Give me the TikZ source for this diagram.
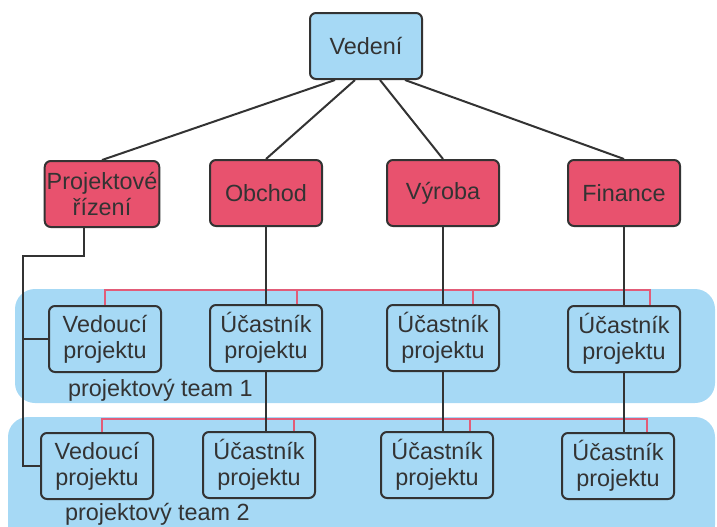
\documentclass[tikz,border=0pt]{standalone}
\usepackage{fontspec}
\setmainfont{Liberation Sans}
\usetikzlibrary{calc}
\definecolor{svetlemodra}{RGB}{166,217,245}
\definecolor{cervena}{RGB}{232,82,110}
\definecolor{ruzova}{RGB}{226,92,120}
\definecolor{tmava}{RGB}{51,51,51}

\begin{document}
\begin{tikzpicture}[x=0.5pt,y=-0.5pt,
    box/.style={draw=tmava,line width=1pt,rounded corners=3pt,
        minimum width=56pt,minimum height=33pt,inner sep=1pt,
        align=center,text=tmava,font=\fontsize{11.7}{13}\selectfont},
    modry/.style={box,fill=svetlemodra},
    cerveny/.style={box,fill=cervena},
    spoj/.style={tmava,line width=1pt},
    cara/.style={ruzova,line width=1pt},
    tym/.style={fill=svetlemodra,rounded corners=10pt},
    popis/.style={anchor=west,text=tmava,font=\fontsize{11.7}{13}\selectfont}]
        \useasboundingbox (0,0) rectangle (717,526);
        % pozadi tymu
        \fill[tym] (15,289) rectangle (715,403);
        \fill[tym] (8,417) rectangle (715,545);
        \node[popis] (tym1) at (61,390) {projektový team 1};
        \node[popis] (tym2) at (58,514) {projektový team 2};

        % vedeni a utvary
        \node[modry] (ved) at (366,46) {Vedení};
        \node[cerveny] (proj) at (102,194) {Projektové\\řízení};
        \node[cerveny] (obch) at (266,193) {Obchod};
        \node[cerveny] (vyr) at (443,193) {Výroba};
        \node[cerveny] (fin) at (624,193) {Finance};
        \draw[spoj] ($(ved.south)+(-31,0)$) -- (proj.north);
        \draw[spoj] ($(ved.south)+(-11,0)$) -- (obch.north);
        \draw[spoj] ($(ved.south)+(14,0)$) -- (vyr.north);
        \draw[spoj] ($(ved.south)+(39,0)$) -- (fin.north);

        % projektovy team 1
        \node[modry] (ved1) at (105,339) {Vedoucí\\projektu};
        \node[modry] (u1a) at (266,338) {Účastník\\projektu};
        \node[modry] (u1b) at (443,338) {Účastník\\projektu};
        \node[modry] (u1c) at (624,339) {Účastník\\projektu};
        % projektovy team 2
        \node[modry] (ved2) at (97,466) {Vedoucí\\projektu};
        \node[modry] (u2a) at (259,465) {Účastník\\projektu};
        \node[modry] (u2b) at (437,465) {Účastník\\projektu};
        \node[modry] (u2c) at (618,466) {Účastník\\projektu};

        % cervene linky v tymech
        \draw[cara] (ved1.north) |- ($(u1c.north)+(26,-15)$) -- ($(u1c.north)+(26,0)$);
        \draw[cara] ($(u1a.north)+(31,0)$) -- ++(0,-15);
        \draw[cara] ($(u1b.north)+(30,0)$) -- ++(0,-15);
        \draw[cara] ($(ved2.north)+(5,0)$) |- ($(u2c.north)+(29,-13)$) -- ($(u2c.north)+(29,0)$);
        \draw[cara] ($(u2a.north)+(35,0)$) -- ++(0,-13);
        \draw[cara] ($(u2b.north)+(33,0)$) -- ++(0,-13);

        % svisle spoje
        \draw[spoj] (obch.south) -- (u1a.north);
        \draw[spoj] (vyr.south) -- (u1b.north);
        \draw[spoj] (fin.south) -- (u1c.north);
        \draw[spoj] (u1a.south) -- (u1a.south |- u2a.north);
        \draw[spoj] (u1b.south) -- (u1b.south |- u2b.north);
        \draw[spoj] (u1c.south) -- (u1c.south |- u2c.north);

        % projektove rizeni k vedoucim
        \coordinate (zlom) at (23,256);
        \draw[spoj] ($(proj.south)+(-18,0)$) |- (zlom) -- (zlom |- ved2.west) -- (ved2.west);
        \draw[spoj] (zlom |- ved1.west) -- (ved1.west);
    \end{tikzpicture}
\end{document}
